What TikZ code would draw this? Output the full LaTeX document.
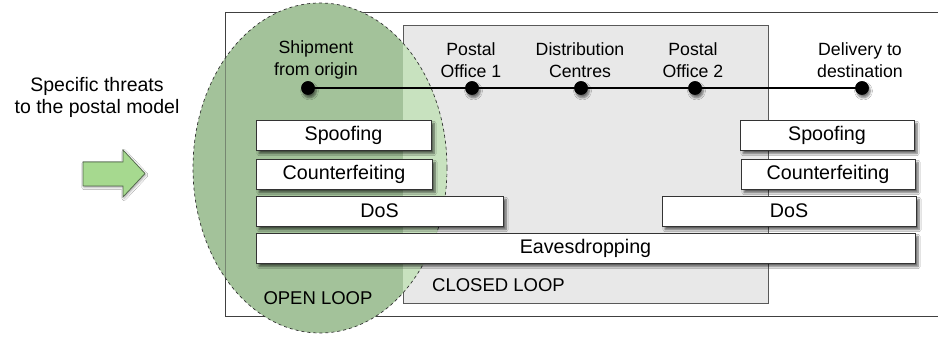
\documentclass[tikz,border=0pt]{standalone}
\usepackage{fontspec}
\setmainfont{Liberation Sans}
\usetikzlibrary{shadows.blur}
\definecolor{opengreen}{HTML}{A3C29A}
\definecolor{lightgreen}{HTML}{C8E2BF}
\definecolor{closedgray}{HTML}{E8E8E8}
\definecolor{arrowgreen}{HTML}{A6D98F}
\definecolor{arrowborder}{HTML}{4F6548}
\tikzset{
  lbl/.style={inner sep=0pt, align=center, font=\fontsize{17.7}{22}\selectfont},
  dot/.style={circle, fill=black, inner sep=0pt, minimum size=13.5pt,
    blur shadow={shadow xshift=1.5pt, shadow yshift=-3pt, shadow blur steps=6, shadow opacity=55}},
  threat/.style={draw=black!80, fill=white, line width=0.7pt, inner sep=0pt, minimum height=30pt,
    font=\fontsize{19.7}{23}\selectfont,
    blur shadow={shadow xshift=3pt, shadow yshift=-3.5pt, shadow blur steps=6, shadow opacity=60}},
  looplbl/.style={inner sep=0pt, font=\fontsize{18.5}{22}\selectfont},
}
\begin{document}
\begin{tikzpicture}[x=1pt,y=-1pt]
\useasboundingbox (0,0) rectangle (938,344);
\fill[white] (0,0) rectangle (938,344);
% outer frame
\draw[black!75, line width=0.8pt] (225,12) rectangle (950,316);
% closed loop area
\draw[fill=closedgray, draw=black!65, line width=0.8pt] (403,25) rectangle (768,303);
% open loop ellipse
\fill[opengreen] (320,168) ellipse [x radius=127, y radius=165];
\begin{scope}
  \clip (403,25) rectangle (768,303);
  \fill[lightgreen] (320,168) ellipse [x radius=127, y radius=165];
\end{scope}
\draw[black!75, line width=0.8pt, opacity=0.45] (225,12) -- (225,316);
\draw[black!80, dashed, line width=0.7pt] (320,168) ellipse [x radius=127, y radius=165];
% left text and arrow
\node[inner sep=0pt, align=center, font=\fontsize{19.5}{22}\selectfont] (intro) at (97,97) {Specific threats\\to the postal model};
\draw[fill=arrowgreen, draw=arrowborder, line width=0.7pt,
  blur shadow={shadow xshift=1pt, shadow yshift=-1.5pt, shadow blur steps=4, shadow opacity=35}]
  (83,162) -- (123,162) -- (123,150) -- (145,173.5) -- (123,197) -- (123,186) -- (83,186) -- cycle;
% timeline
\node[dot] (d1) at (308,88) {};
\node[dot] (d2) at (472,88) {};
\node[dot] (d3) at (581,88) {};
\node[dot] (d4) at (695,88) {};
\node[dot] (d5) at (862,88) {};
\draw[line width=1.6pt] (d1.center) -- (d5.center);
\foreach \n in {d1,d2,d3,d4,d5} \fill (\n) circle (6.75);
\node[lbl] (l1) at (316,60) {Shipment\\from origin};
\node[lbl] (l2) at (471,60) {Postal\\Office 1};
\node[lbl] (l3) at (580,60) {Distribution\\Centres};
\node[lbl] (l4) at (693,60) {Postal\\Office 2};
\node[lbl] (l5) at (860,60) {Delivery to\\destination};
% threat boxes
\node[threat, minimum width=175pt] (sp1) at (343.5,135) {Spoofing};
\node[threat, minimum width=176pt] (cf1) at (344,174) {Counterfeiting};
\node[threat, minimum width=247pt] (dos1) at (379.5,211) {DoS};
\node[threat, minimum width=659pt] (eav) at (585.5,248) {Eavesdropping};
\node[threat, minimum width=174pt] (sp2) at (827,135) {Spoofing};
\node[threat, minimum width=174pt] (cf2) at (828,174) {Counterfeiting};
\node[threat, minimum width=254pt] (dos2) at (789,211) {DoS};
% loop labels
\node[looplbl] (open) at (318,298) {OPEN LOOP};
\node[looplbl, anchor=west] (closed) at (432,285) {CLOSED LOOP};
\end{tikzpicture}
\end{document}
